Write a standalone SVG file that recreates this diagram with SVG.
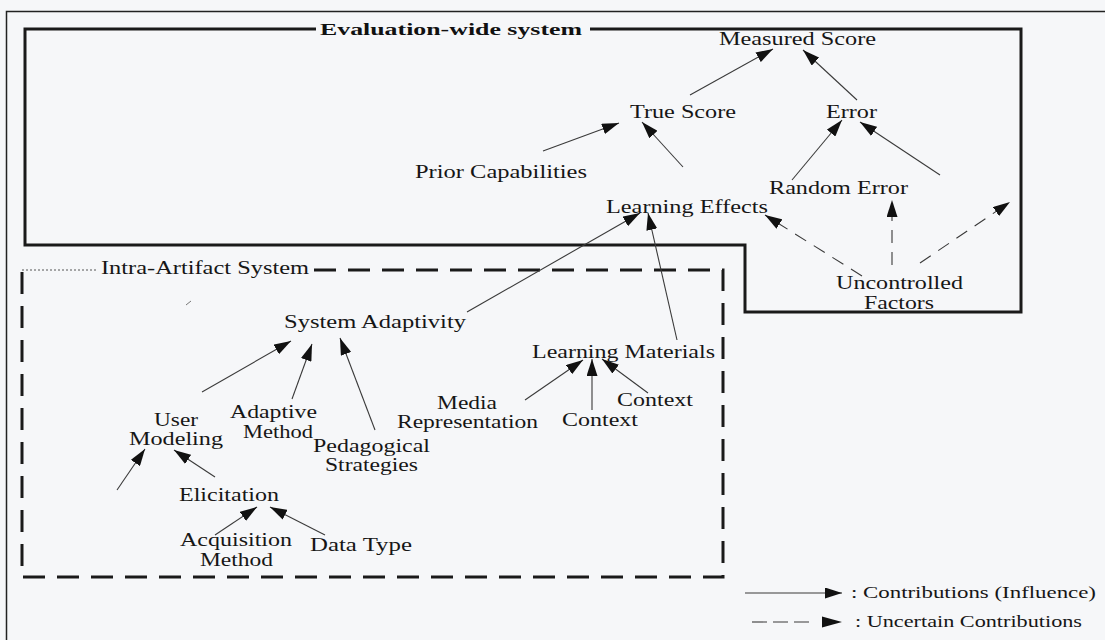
<svg xmlns="http://www.w3.org/2000/svg" width="1105" height="640" viewBox="0 0 1105 640">
  <defs>
    <marker id="head" viewBox="0 0 17 11" refX="17" refY="5.5" markerWidth="17" markerHeight="11" markerUnits="userSpaceOnUse" orient="auto">
      <path d="M0,0 L17,5.5 L0,11 z" fill="#111"/>
    </marker>
    <style>
      .lbl { font-family: "Liberation Serif", "Times New Roman", serif; font-size: 19px; fill: #161616; }
      .title { font-family: "Liberation Serif", "Times New Roman", serif; font-size: 17px; font-weight: bold; fill: #111; }
      .legend { font-family: "Liberation Serif", "Times New Roman", serif; font-size: 17px; fill: #161616; }
      .frame { fill: none; stroke: #1a1a1a; stroke-width: 3; }
      .dashframe { fill: none; stroke: #1a1a1a; stroke-width: 3; stroke-dasharray: 22 12; }
      .edge { fill: none; stroke: #3a3a3a; stroke-width: 1.1; marker-end: url(#head); }
      .edge.unsure { stroke-dasharray: 13 9; }
    </style>
  </defs>

  <rect x="0" y="0" width="1105" height="640" fill="#f6f7f9"/>

  <!-- outer page border -->
  <rect x="6.5" y="11.5" width="1120" height="660" fill="none" stroke="#222" stroke-width="1.5"/>

  <!-- evaluation-wide system boundary -->
  <g id="evaluation-wide-system">
    <path class="frame" d="M316,29 H25 V245 H745 V312 H1021 V29 H590"/>
    <text class="title" x="320" y="35" textLength="262" lengthAdjust="spacingAndGlyphs">Evaluation-wide system</text>
  </g>

  <!-- intra-artifact system boundary -->
  <g id="intra-artifact-system">
    <line x1="22" y1="270" x2="98" y2="270" stroke="#555" stroke-width="1" stroke-dasharray="2 2"/>
    <path class="dashframe" d="M22,272 V577 H723 V270 H312"/>
    <text class="lbl" x="101" y="274" textLength="208" lengthAdjust="spacingAndGlyphs">Intra-Artifact System</text>
    <line x1="186" y1="305" x2="191" y2="301" stroke="#777" stroke-width="1"/>
  </g>

  <!-- nodes -->
  <g id="measured-score"><text class="lbl" x="719" y="45" textLength="157" lengthAdjust="spacingAndGlyphs">Measured Score</text></g>
  <g id="true-score"><text class="lbl" x="630" y="118" textLength="106" lengthAdjust="spacingAndGlyphs">True Score</text></g>
  <g id="error"><text class="lbl" x="826" y="118" textLength="51" lengthAdjust="spacingAndGlyphs">Error</text></g>
  <g id="prior-capabilities"><text class="lbl" x="415" y="178" textLength="172" lengthAdjust="spacingAndGlyphs">Prior Capabilities</text></g>
  <g id="random-error"><text class="lbl" x="769" y="194" textLength="139" lengthAdjust="spacingAndGlyphs">Random Error</text></g>
  <g id="learning-effects"><text class="lbl" x="606" y="213" textLength="162" lengthAdjust="spacingAndGlyphs">Learning Effects</text></g>
  <g id="uncontrolled-factors">
    <text class="lbl" x="836" y="289" textLength="127" lengthAdjust="spacingAndGlyphs">Uncontrolled</text>
    <text class="lbl" x="864" y="309" textLength="70" lengthAdjust="spacingAndGlyphs">Factors</text>
  </g>
  <g id="system-adaptivity"><text class="lbl" x="284" y="328" textLength="182" lengthAdjust="spacingAndGlyphs">System Adaptivity</text></g>
  <g id="user-modeling">
    <text class="lbl" x="154" y="426" textLength="44" lengthAdjust="spacingAndGlyphs">User</text>
    <text class="lbl" x="129" y="445" textLength="94" lengthAdjust="spacingAndGlyphs">Modeling</text>
  </g>
  <g id="adaptive-method">
    <text class="lbl" x="230" y="418" textLength="87" lengthAdjust="spacingAndGlyphs">Adaptive</text>
    <text class="lbl" x="243" y="438" textLength="70" lengthAdjust="spacingAndGlyphs">Method</text>
  </g>
  <g id="pedagogical-strategies">
    <text class="lbl" x="313" y="452" textLength="117" lengthAdjust="spacingAndGlyphs">Pedagogical</text>
    <text class="lbl" x="325" y="471" textLength="93" lengthAdjust="spacingAndGlyphs">Strategies</text>
  </g>
  <g id="elicitation"><text class="lbl" x="179" y="501" textLength="100" lengthAdjust="spacingAndGlyphs">Elicitation</text></g>
  <g id="acquisition-method">
    <text class="lbl" x="180" y="546" textLength="112" lengthAdjust="spacingAndGlyphs">Acquisition</text>
    <text class="lbl" x="200" y="566" textLength="73" lengthAdjust="spacingAndGlyphs">Method</text>
  </g>
  <g id="data-type"><text class="lbl" x="310" y="551" textLength="102" lengthAdjust="spacingAndGlyphs">Data Type</text></g>
  <g id="learning-materials"><text class="lbl" x="532" y="358" textLength="183" lengthAdjust="spacingAndGlyphs">Learning Materials</text></g>
  <g id="media-representation">
    <text class="lbl" x="437" y="409" textLength="60" lengthAdjust="spacingAndGlyphs">Media</text>
    <text class="lbl" x="397" y="428" textLength="141" lengthAdjust="spacingAndGlyphs">Representation</text>
  </g>
  <g id="context-a"><text class="lbl" x="562" y="426" textLength="76" lengthAdjust="spacingAndGlyphs">Context</text></g>
  <g id="context-b"><text class="lbl" x="617" y="406" textLength="76" lengthAdjust="spacingAndGlyphs">Context</text></g>

  <!-- connectors -->
  <g id="connectors">
    <line class="edge" x1="690" y1="95" x2="773" y2="49"/>
    <line class="edge" x1="857" y1="100" x2="803" y2="50"/>
    <line class="edge" x1="543" y1="151" x2="619" y2="123"/>
    <line class="edge" x1="683" y1="167" x2="642" y2="122"/>
    <line class="edge" x1="792" y1="180" x2="842" y2="120"/>
    <line class="edge" x1="940" y1="175" x2="860" y2="122"/>
    <line class="edge" x1="467" y1="312" x2="640" y2="213"/>
    <line class="edge" x1="677" y1="340" x2="648" y2="213"/>
    <line class="edge" x1="202" y1="392" x2="291" y2="341"/>
    <line class="edge" x1="292" y1="399" x2="312" y2="344"/>
    <line class="edge" x1="375" y1="430" x2="340" y2="338"/>
    <line class="edge" x1="117" y1="490" x2="145" y2="449"/>
    <line class="edge" x1="215" y1="477" x2="174" y2="450"/>
    <line class="edge" x1="215" y1="535" x2="257" y2="507"/>
    <line class="edge" x1="325" y1="535" x2="270" y2="507"/>
    <line class="edge" x1="525" y1="400" x2="583" y2="360"/>
    <line class="edge" x1="592" y1="410" x2="592" y2="359"/>
    <line class="edge" x1="648" y1="393" x2="602" y2="359"/>
    <line class="edge unsure" x1="862" y1="276" x2="765" y2="215"/>
    <line class="edge unsure" x1="892" y1="265" x2="892" y2="200"/>
    <line class="edge unsure" x1="920" y1="263" x2="1010" y2="202"/>
  </g>

  <!-- key -->
  <g id="legend">
    <line class="edge" x1="745" y1="593" x2="842" y2="593"/>
    <text class="legend" x="851" y="598" textLength="245" lengthAdjust="spacingAndGlyphs">: Contributions (Influence)</text>
    <line x1="752" y1="622" x2="812" y2="622" stroke="#3a3a3a" stroke-width="1.1" stroke-dasharray="15 6"/>
    <path d="M822,616.5 L842,622 L822,627.5 z" fill="#111"/>
    <text class="legend" x="855" y="627" textLength="227" lengthAdjust="spacingAndGlyphs">: Uncertain Contributions</text>
  </g>
</svg>
